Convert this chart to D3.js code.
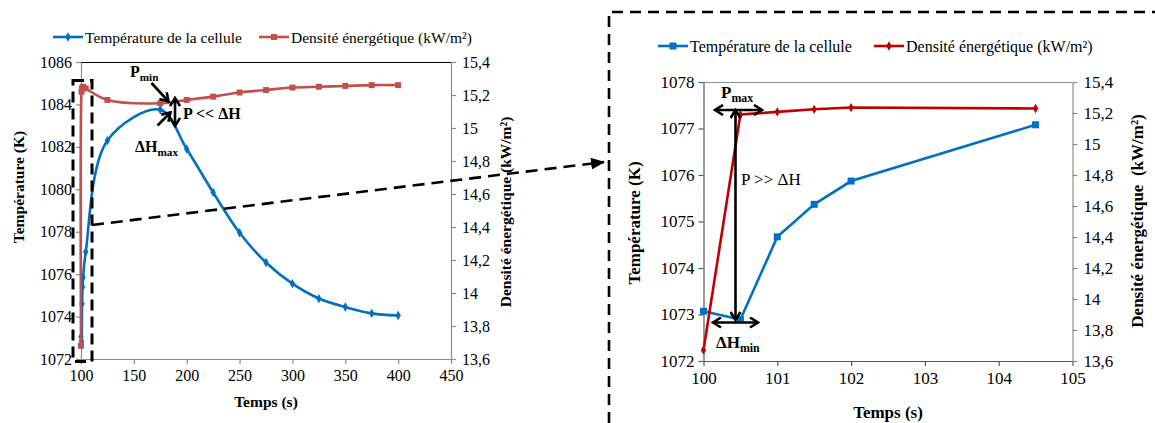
<!DOCTYPE html>
<html><head><meta charset="utf-8">
<script src="https://cdn.jsdelivr.net/npm/d3@7"></script>
<style>
html,body{margin:0;padding:0;background:#fff;}
svg{display:block;}
</style></head>
<body>
<svg id="c" width="1155" height="423"></svg>
<script>
// ---------- DATA ----------
// Left chart (full run)
const timeL = [100,100.5,101,101.5,102,104.5,125,175,200,225,250,275,300,325,350,375,400];
const tempL = [1073.05,1072.85,1074.6,1075.4,1075.85,1077.05,1082.3,1083.75,1081.9,1079.85,1077.95,1076.55,1075.55,1074.85,1074.45,1074.15,1074.05];
const densL = [13.68,15.22,15.24,15.245,15.25,15.24,15.17,15.15,15.17,15.19,15.215,15.23,15.245,15.25,15.255,15.26,15.26];
// Right chart (zoom on the first seconds)
const timeR = [100,100.5,101,101.5,102,104.5];
const tempR = [1073.07,1072.89,1074.67,1075.37,1075.87,1077.08];
const densR = [13.67,15.19,15.207,15.224,15.235,15.229];
// Ticks
const xTicksL = [100,150,200,250,300,350,400,450];
const yTicksL = [1072,1074,1076,1078,1080,1082,1084,1086];
const xTicksR = [100,101,102,103,104,105];
const yTicksR = [1072,1073,1074,1075,1076,1077,1078];
const y2Ticks = [13.6,13.8,14,14.2,14.4,14.6,14.8,15,15.2,15.4];
// Texts
const legendTemp = "Température de la cellule";
const legendDens = "Densité énergétique (kW/m²)";
const xTitle = "Temps (s)";
const yTitle = "Température (K)";
const y2TitleL = "Densité énergétique (kW/m²)";
const y2TitleR = "Densité énergétique  (kW/m²)";

const FONT = "Liberation Serif";
const BLUE = "#0070C0", RED_L = "#C0504D", RED_R = "#C00000";
const fmt = d => String(+d.toFixed(1)).replace(".", ",");

const svg = d3.select("#c").style("font-family", FONT);
const defs = svg.append("defs");
defs.append("marker").attr("id","chev").attr("markerUnits","userSpaceOnUse")
  .attr("viewBox","0 0 12 12").attr("markerWidth",12).attr("markerHeight",12)
  .attr("refX",10).attr("refY",6).attr("orient","auto-start-reverse")
  .append("path").attr("d","M2,1 L10,6 L2,11").attr("fill","none")
  .attr("stroke","#000").attr("stroke-width",2.6).attr("stroke-linejoin","miter");
defs.append("marker").attr("id","tri").attr("markerUnits","userSpaceOnUse")
  .attr("viewBox","0 0 14 12").attr("markerWidth",14).attr("markerHeight",12)
  .attr("refX",13).attr("refY",6).attr("orient","auto")
  .append("path").attr("d","M0,0 L14,6 L0,12 Z").attr("fill","#000");

function txt(sel){ return sel.style("font-family", FONT).attr("fill","#000"); }

function chart(o){
  const g = svg.append("g");
  const x = d3.scaleLinear().domain(o.xDom).range([o.x0,o.x1]);
  const y = d3.scaleLinear().domain(o.yDom).range([o.y1,o.y0]);
  const y2 = d3.scaleLinear().domain([13.6,15.4]).range([o.y1,o.y0]);
  g.append("line").attr("x1",o.x0).attr("x2",o.x1).attr("y1",o.y0+0.5).attr("y2",o.y0+0.5)
   .attr("stroke",o.topCol).attr("stroke-width",1);
  const ax = g.append("g").attr("transform",`translate(0,${o.y1})`)
    .call(d3.axisBottom(x).tickValues(o.xTicks).tickSize(5).tickSizeOuter(0).tickPadding(6).tickFormat(d=>d));
  const ay = g.append("g").attr("transform",`translate(${o.x0},0)`)
    .call(d3.axisLeft(y).tickValues(o.yTicks).tickSize(5).tickSizeOuter(0).tickPadding(4).tickFormat(d=>d));
  const ay2 = g.append("g").attr("transform",`translate(${o.x1},0)`)
    .call(d3.axisRight(y2).tickValues(y2Ticks).tickSize(5).tickSizeOuter(0).tickPadding(6).tickFormat(fmt));
  [ax,ay].forEach(a=>{a.selectAll("path,line").attr("stroke",o.axCol).attr("stroke-width",1.2);});
  ay2.selectAll("path,line").attr("stroke","#8c8c8c").attr("stroke-width",1.2);
  [ax,ay,ay2].forEach(a=>{ a.attr("font-family",null); txt(a.selectAll("text")).attr("font-size",o.tickFs); });
  txt(g.append("text")).attr("x",(o.x0+o.x1)/2).attr("y",o.xTitleY).attr("text-anchor","middle")
   .attr("font-weight","bold").attr("font-size",o.titleFs).text(xTitle);
  txt(g.append("text")).attr("transform",`translate(${o.yTitleX},${o.yTitleCY}) rotate(-90)`)
   .attr("text-anchor","middle").attr("dominant-baseline","central")
   .attr("font-weight","bold").attr("font-size",o.titleFs).text(yTitle);
  txt(g.append("text")).attr("transform",`translate(${o.y2TitleX},${o.y2TitleCY}) rotate(-90)`)
   .attr("text-anchor","middle").attr("dominant-baseline","central")
   .attr("font-weight","bold").attr("font-size",o.titleFs)
   .style("white-space","pre").text(o.y2Title);
  const curve = o.smooth ? d3.curveCatmullRom.alpha(0.5) : d3.curveLinear;
  const tData = o.t.map((t,i)=>({t, v:o.temp[i]}));
  const dData = o.t.map((t,i)=>({t, v:o.dens[i]}));
  const lineT = d3.line().x(d=>x(d.t)).y(d=>y(d.v)).curve(curve);
  const lineD = d3.line().x(d=>x(d.t)).y(d=>y2(d.v)).curve(curve);
  g.append("path").datum(tData).attr("d",lineT).attr("fill","none").attr("stroke",BLUE).attr("stroke-width",2.6);
  drawMarkers(g, tData, d=>x(d.t), d=>y(d.v), o.tMark, BLUE, o.tMarkSize);
  g.append("path").datum(dData).attr("d",lineD).attr("fill","none").attr("stroke",o.red).attr("stroke-width",2.6);
  drawMarkers(g, dData, d=>x(d.t), d=>y2(d.v), o.dMark, o.red, o.dMarkSize);
  const lg = g.append("g");
  const L = o.legend;
  lg.append("line").attr("x1",L.x1).attr("x2",L.x1+30).attr("y1",L.y).attr("y2",L.y).attr("stroke",BLUE).attr("stroke-width",2.6);
  drawMarkers(lg,[0],()=>L.x1+15,()=>L.y,o.tMark,BLUE,o.tMarkSize);
  txt(lg.append("text")).attr("x",L.x1+32).attr("y",L.y).attr("dominant-baseline","central").attr("font-size",L.fs).text(legendTemp);
  lg.append("line").attr("x1",L.x2).attr("x2",L.x2+30).attr("y1",L.y).attr("y2",L.y).attr("stroke",o.red).attr("stroke-width",2.6);
  drawMarkers(lg,[0],()=>L.x2+15,()=>L.y,o.dMark,o.red,o.dMarkSize);
  txt(lg.append("text")).attr("x",L.x2+32).attr("y",L.y).attr("dominant-baseline","central").attr("font-size",L.fs).text(legendDens);
  return {x,y,y2,g};
}
function drawMarkers(g,data,fx,fy,type,col,s){
  const sym = type==="square" ? d3.symbolSquare : d3.symbolDiamond;
  g.selectAll(null).data(data).enter().append("path")
   .attr("d", d3.symbol().type(sym).size(s*s))
   .attr("transform", d=>`translate(${fx(d)},${fy(d)})`).attr("fill",col);
}

// ---------- LEFT CHART ----------
const L = chart({
  xDom:[100,450], yDom:[1072,1086], x0:81, x1:451, y0:62, y1:359,
  xTicks:xTicksL, yTicks:yTicksL, t:timeL, temp:tempL, dens:densL,
  red:RED_L, tMark:"diamond", tMarkSize:5, dMark:"square", dMarkSize:6,
  smooth:true, axCol:"#8c8c8c", topCol:"#000", tickFs:16, titleFs:15.5,
  xTitleY:407, yTitleX:18, yTitleCY:187, y2TitleX:505, y2TitleCY:212, y2Title:y2TitleL,
  legend:{x1:53, x2:259, y:37, fs:15.5}
});
// ---------- RIGHT CHART ----------
const R = chart({
  xDom:[100,105], yDom:[1072,1078], x0:703.5, x1:1072.5, y0:82, y1:361,
  xTicks:xTicksR, yTicks:yTicksR, t:timeR, temp:tempR, dens:densR,
  red:RED_R, tMark:"square", tMarkSize:7, dMark:"diamond", dMarkSize:5,
  smooth:false, axCol:"#595959", topCol:"#8c8c8c", tickFs:17, titleFs:17,
  xTitleY:418, yTitleX:634, yTitleCY:223, y2TitleX:1137, y2TitleCY:221, y2Title:y2TitleR,
  legend:{x1:658, x2:874, y:46, fs:16}
});

// ---------- ANNOTATIONS ----------
function arrow(x1,y1,x2,y2,both){
  const l = svg.append("line").attr("x1",x1).attr("y1",y1).attr("x2",x2).attr("y2",y2)
    .attr("stroke","#000").attr("stroke-width",2.6).attr("marker-end","url(#chev)");
  if(both) l.attr("marker-start","url(#chev)");
}
function sub(x,y,main,s,fs,bold){
  const t = txt(svg.append("text")).attr("x",x).attr("y",y).attr("font-size",fs)
    .attr("font-weight",bold?"bold":"normal");
  t.append("tspan").text(main);
  t.append("tspan").attr("font-size",fs*0.7).attr("dy",4).text(s);
}
// left
sub(130,77,"P","min",16,true);
arrow(151.5,83,168.5,101.5,false);
arrow(175,98,175,126,true);
arrow(157.5,125.5,170.5,112.5,false);
txt(svg.append("text")).attr("x",183).attr("y",119).attr("font-size",16).attr("font-weight","bold").text("P << ΔH");
sub(135,152,"ΔH","max",16,true);
// right
sub(721,98,"P","max",17,true);
arrow(715,110,762,110,true);
arrow(735.5,110,735.5,320,true);
arrow(713,322.5,758,322.5,true);
txt(svg.append("text")).attr("x",741).attr("y",185).attr("font-size",17).text("P >> ΔH");
sub(716,348,"ΔH","min",17,true);

// ---------- DASHED ZOOM CALL-OUTS ----------
svg.append("rect").attr("x",73).attr("y",80.5).attr("width",19).attr("height",281)
  .attr("fill","none").attr("stroke","#000").attr("stroke-width",3).attr("stroke-dasharray","11,6");
svg.append("line").attr("x1",92).attr("y1",225).attr("x2",604).attr("y2",162)
  .attr("stroke","#000").attr("stroke-width",2.6).attr("stroke-dasharray","12,7")
  .attr("marker-end","url(#tri)");
svg.append("path").attr("d","M609,423 L609,12 L1155,12").attr("fill","none")
  .attr("stroke","#000").attr("stroke-width",2.6).attr("stroke-dasharray","11,7");
</script>
</body></html>
